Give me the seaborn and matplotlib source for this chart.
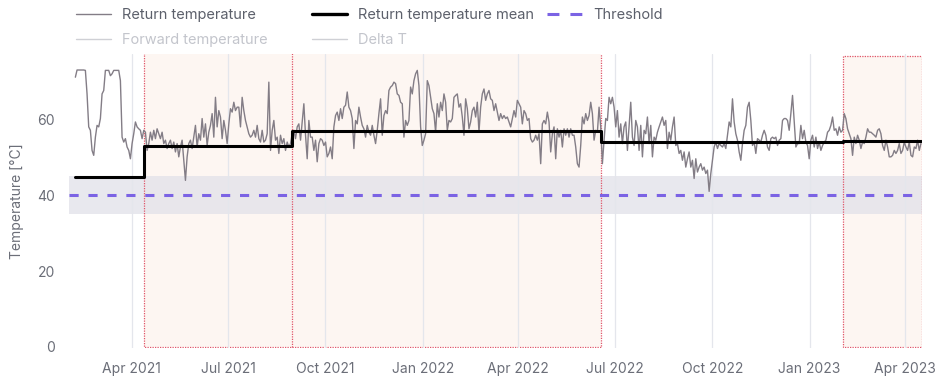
import matplotlib
matplotlib.use("Agg")
import matplotlib.pyplot as plt
import matplotlib.dates as mdates
from matplotlib.lines import Line2D
from matplotlib.patches import Rectangle
import numpy as np
import pandas as pd
import seaborn as sns

# Return temperature readings [°C], in chronological order
return_feb_jul_2021 = [
    71.1, 73.0, 73.0, 73.0, 73.0, 73.0, 72.9, 66.7, 58.0, 57.1,
    51.8, 50.5, 55.3, 58.4, 58.0, 60.2, 66.7, 67.6, 72.9, 72.9,
    72.9, 71.5, 72.0, 72.9, 72.9, 72.9, 72.9, 70.2, 55.3, 54.0,
    54.9, 52.7, 51.8, 49.6, 53.6, 56.2, 59.3, 58.0, 57.5, 57.1,
    54.9, 57.1, 56.6, 51.8, 53.6, 56.6, 54.5, 57.1, 54.9, 57.5,
    56.2, 54.9, 56.6, 53.6, 54.5, 52.3, 53.6, 54.5, 52.3, 54.0,
    51.4, 53.6, 50.1, 52.7, 54.5, 49.2, 43.9, 50.1, 53.6, 54.5,
    52.3, 55.3, 58.4, 52.7, 56.2, 54.5, 60.2, 55.3, 58.8, 53.1,
    56.6, 58.4, 61.5, 55.3, 65.8, 58.0, 62.3, 60.6, 54.9, 59.7,
    57.1, 53.6, 58.8, 62.8, 61.9, 64.5, 62.3, 63.2,
]
return_jul_2021_jan_2022 = [
    63.2, 58.0, 65.8, 62.3, 59.7, 58.0, 56.2, 55.3, 55.8, 57.1,
    55.3, 58.4, 54.9, 54.0, 57.1, 54.0, 54.5, 56.2, 69.8, 51.8,
    57.1, 59.7, 54.5, 55.3, 51.0, 55.8, 53.6, 54.9, 51.8, 54.0,
    52.7, 53.6, 56.2, 57.1, 54.9, 58.0, 58.8, 54.5, 59.3, 64.1,
    55.8, 49.6, 59.7, 55.3, 55.3, 51.8, 54.5, 48.8, 53.6, 54.9,
    54.5, 53.1, 54.0, 50.1, 51.0, 52.7, 49.6, 58.0, 61.0, 61.9,
    59.7, 62.8, 60.2, 63.2, 63.7, 67.2, 63.2, 62.3, 60.2, 52.3,
    59.7, 58.8, 63.2, 60.6, 58.4, 57.5, 55.3, 58.4, 56.6, 55.8,
    58.4, 55.8, 53.6, 57.1, 61.5, 65.4, 55.8, 61.0, 62.3, 61.5,
    67.6, 68.5, 68.9, 69.8, 69.4, 66.7, 66.3, 64.5, 64.1, 55.3,
    59.7, 58.4,
]
return_jan_jul_2022 = [
    59.7, 68.5, 66.7, 70.2, 72.0, 72.9, 68.9, 58.0, 53.1, 54.5,
    56.2, 70.2, 68.9, 65.8, 62.8, 61.5, 56.6, 64.1, 60.6, 64.5,
    62.3, 66.7, 64.5, 57.1, 59.7, 59.3, 60.2, 65.8, 66.3, 66.7,
    63.2, 64.1, 60.6, 55.8, 65.4, 62.8, 57.5, 59.3, 62.3, 63.2,
    60.6, 64.5, 56.6, 63.2, 66.7, 68.0, 65.0, 66.7, 67.6, 65.4,
    65.0, 62.3, 64.1, 61.9, 59.7, 61.5, 60.2, 61.0, 60.2, 60.6,
    59.3, 58.0, 60.2, 62.3, 60.6, 65.0, 64.1, 63.2, 58.8, 62.3,
    61.5, 59.7, 60.2, 54.9, 54.0, 54.5, 55.8, 54.5, 56.2, 48.3,
    58.8, 59.7, 58.8, 61.9, 59.3, 51.4, 56.2, 58.0, 49.6, 57.5,
    55.3, 57.1, 52.7, 57.5, 55.8, 57.5, 55.3, 57.5, 55.8, 55.8,
    52.7, 48.3,
]
return_jul_2022_jan_2023 = [
    47.4, 53.1, 60.6, 58.8, 61.5, 59.7, 61.0, 64.5, 61.5, 54.5,
    57.1, 56.6, 63.2, 58.0, 48.3, 54.5, 60.2, 59.7, 65.8, 64.1,
    65.8, 63.2, 58.0, 62.3, 55.3, 58.8, 53.6, 58.0, 59.3, 51.8,
    58.0, 64.5, 55.3, 53.1, 59.7, 58.0, 51.8, 58.4, 50.1, 57.1,
    56.2, 60.6, 53.6, 58.4, 50.1, 55.3, 54.5, 56.6, 58.0, 59.3,
    60.6, 58.4, 59.7, 52.3, 56.6, 54.5, 58.0, 60.6, 53.1, 53.6,
    51.0, 51.8, 49.2, 51.4, 47.4, 49.6, 51.4, 47.4, 49.2, 44.4,
    49.6, 46.1, 47.4, 48.3, 46.6, 47.4, 45.7, 46.6, 41.0, 45.7,
    49.2, 52.7, 54.0, 52.3, 53.6, 53.1, 52.7, 53.6, 52.3, 55.8,
    59.3, 58.0, 65.4, 59.3, 56.2, 54.5, 51.4, 49.2, 53.6, 57.1,
    58.4, 63.2,
]
return_jan_apr_2023 = [
    64.5, 59.7, 53.1, 54.0, 51.0, 54.9, 54.5, 54.0, 55.8, 57.1,
    55.8, 52.7, 51.8, 54.9, 55.3, 54.9, 55.3, 53.1, 54.5, 54.9,
    59.7, 60.2, 60.2, 59.7, 57.1, 61.5, 66.3, 59.7, 52.7, 53.6,
    53.6, 58.4, 54.9, 57.1, 54.0, 53.1, 49.6, 54.5, 55.8, 52.7,
    55.3, 52.3, 54.0, 51.8, 53.1, 54.0, 54.5, 56.6, 57.1, 58.4,
    60.6, 57.1, 57.5, 55.8, 58.0, 56.6, 57.1, 61.5, 60.2, 57.5,
    56.2, 54.9, 50.5, 55.3, 53.6, 55.8, 54.5, 52.3, 54.0, 53.6,
    55.3, 57.5, 56.6, 56.6, 56.2, 55.8, 55.3, 57.1, 57.5, 56.2,
    53.1, 51.8, 54.5, 52.7, 50.1, 50.1, 50.5, 51.8, 51.0, 51.8,
    53.6, 51.0, 51.8, 54.0, 52.7, 51.8, 54.0, 50.5, 50.1, 52.7,
    52.3, 54.5, 51.8, 53.6,
]
return_temperature = (return_feb_jul_2021 + return_jul_2021_jan_2022
                      + return_jan_jul_2022 + return_jul_2022_jan_2023
                      + return_jan_apr_2023)
series_start, series_end = "2021-02-07", "2023-04-16"

# Mean return temperature per operating period (step changes)
mean_dates = ["2021-02-07", "2021-04-13", "2021-08-30", "2022-06-18",
              "2023-02-01", "2023-04-16"]
mean_values = [44.8, 53.0, 56.9, 54.0, 54.3, 54.3]

# Highlighted periods (start, end, top of box in °C; None = full height)
period_starts = ["2021-04-13", "2021-08-30", "2023-02-01"]
period_ends = ["2021-08-30", "2022-06-18", "2023-04-17"]
period_tops = [None, None, 76.6]

threshold = 40
threshold_band = (35, 45)

x_range = ("2021-02-01", "2023-04-17")
y_range = (-0.4, 77.2)
y_ticks = [0, 20, 40, 60]

TEXT = "#6b6e78"
LINE = "#837d86"
PURPLE = "#7b63e4"
PERIOD_EDGE = "#e0566a"

sns.set_theme(style="white")
plt.rcParams["font.family"] = ["Inter", "DejaVu Sans"]

df = pd.DataFrame({
    "date": pd.date_range(series_start, series_end, periods=len(return_temperature)),
    "return_temperature": return_temperature,
})
mean_df = pd.DataFrame({"date": pd.to_datetime(mean_dates), "mean": mean_values})

fig = plt.figure(figsize=(9.39, 3.8), dpi=100)
ax = fig.add_axes([0.0735, 0.0832, 0.9084, 0.7745])

# Highlighted periods: light fill, band on top, dotted outlines above.
# An edge shared with the previous period is only drawn once.
prev_end = None
for s, e, top in zip(period_starts, period_ends, period_tops):
    x0 = mdates.date2num(pd.Timestamp(s))
    x1 = mdates.date2num(pd.Timestamp(e))
    h = (top if top is not None else y_range[1] + 5)
    ax.add_patch(Rectangle((x0, 0), x1 - x0, h, facecolor="#fdf6f2",
                           edgecolor="none", zorder=0.1))
    if prev_end == s:
        xs, ys = [x0, x1, x1, x0], [0, 0, h, h]
    else:
        xs, ys = [x0, x0, x1, x1, x0], [h, 0, 0, h, h]
    ax.plot(xs, ys, color=PERIOD_EDGE, linestyle=(0, (1, 1)),
            linewidth=0.9, zorder=0.4)
    prev_end = e

ax.axhspan(*threshold_band, color="#e3e3ea", alpha=0.8, lw=0, zorder=0.2)

sns.lineplot(data=df, x="date", y="return_temperature", ax=ax, color=LINE,
             linewidth=1.0, estimator=None, zorder=2)
sns.lineplot(data=mean_df, x="date", y="mean", ax=ax, color="black",
             linewidth=2.2, drawstyle="steps-post", estimator=None, zorder=3)
ax.axhline(threshold, color=PURPLE, linewidth=2.2, dashes=(3.0, 3.2), zorder=2.5)

ax.set_xlim(pd.Timestamp(x_range[0]), pd.Timestamp(x_range[1]))
ax.set_ylim(*y_range)
ax.set_yticks(y_ticks)
ax.xaxis.set_major_locator(mdates.MonthLocator(bymonth=[1, 4, 7, 10]))
ax.xaxis.set_major_formatter(mdates.DateFormatter("%b %Y"))

ax.grid(axis="x", color="#e4e6ec", linewidth=0.9, zorder=0.3)
ax.grid(axis="y", visible=False)
ax.set_axisbelow(True)
for sp in ax.spines.values():
    sp.set_visible(False)
ax.tick_params(axis="x", length=0, pad=10, labelsize=10, labelcolor=TEXT)
ax.tick_params(axis="y", length=0, pad=10, labelsize=10, labelcolor=TEXT)
ax.set_xlabel("")
ax.set_ylabel("Temperature [°C]", fontsize=10, color=TEXT)
ax.yaxis.set_label_coords(-0.0528, 0.5)

# Legend laid out in three equal-width columns
DARK_LBL = "#5c606b"
LIGHT_LBL = "#c3c5cc"
legend_columns = [
    ([Line2D([], [], color=LINE, lw=1.0), Line2D([], [], color="#cfd0d5", lw=1.0)],
     ["Return temperature", "Forward temperature"], [DARK_LBL, LIGHT_LBL]),
    ([Line2D([], [], color="black", lw=2.4), Line2D([], [], color="#cfd0d5", lw=1.0)],
     ["Return temperature mean", "Delta T"], [DARK_LBL, LIGHT_LBL]),
    ([Line2D([], [], color=PURPLE, lw=2.2, dashes=(3.9, 3.6))],
     ["Threshold"], [DARK_LBL]),
]
col_x = [0.0809, 0.3323, 0.5825]
for x, (handles, labels, colors) in zip(col_x, legend_columns):
    leg = fig.legend(handles, labels, loc="upper left", bbox_to_anchor=(x, 0.978),
                     frameon=False, fontsize=10.5, handlelength=2.4,
                     handletextpad=0.75, labelspacing=0.72, borderpad=0,
                     borderaxespad=0)
    for t, c in zip(leg.get_texts(), colors):
        t.set_color(c)

fig.savefig("out.png", dpi=100)
